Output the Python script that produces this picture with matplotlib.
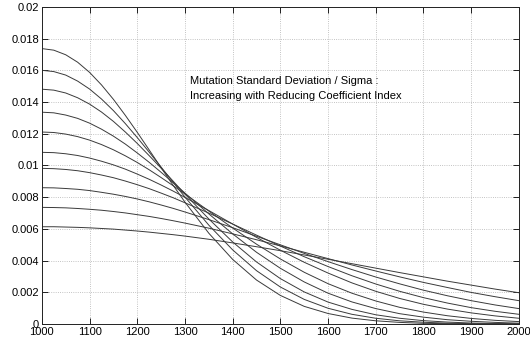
import matplotlib
matplotlib.use("Agg")
import matplotlib.pyplot as plt
from matplotlib.ticker import FuncFormatter

# sample positions (coefficient axis), denser near the peaks
x_vals = [1000, 1025, 1050, 1075, 1100, 1125, 1150, 1175, 1200, 1225, 1250, 1275, 1300,
          1350, 1400, 1450, 1500, 1550, 1600, 1650, 1700, 1750, 1800, 1850, 1900, 1950, 2000]

# one curve per coefficient index (tallest first)
curve_1 = [0.01737, 0.01727, 0.01698, 0.01651, 0.01587, 0.01508, 0.01417, 0.01316, 0.01209, 0.01098,
           0.00986, 0.00876, 0.00769, 0.00573, 0.00408, 0.00278, 0.00181, 0.00112, 0.00067, 0.00038,
           0.00021, 0.00011, 0.00005, 0.00003, 0.00001, 0.0, 0.0]
curve_2 = [0.0160, 0.01592, 0.01570, 0.01532, 0.01482, 0.01419, 0.01346, 0.01264, 0.01176, 0.01084,
           0.00990, 0.00895, 0.00801, 0.00624, 0.00468, 0.00337, 0.00234, 0.00156, 0.00100, 0.00062,
           0.00037, 0.00021, 0.00012, 0.00006, 0.00003, 0.00002, 0.00001]
curve_3 = [0.01481, 0.01475, 0.01457, 0.01427, 0.01387, 0.01337, 0.01278, 0.01211, 0.01139, 0.01062,
           0.00983, 0.00902, 0.00820, 0.00663, 0.00518, 0.00392, 0.00287, 0.00203, 0.00139, 0.00093,
           0.00059, 0.00037, 0.00022, 0.00013, 0.00007, 0.00004, 0.00002]
curve_4 = [0.01336, 0.01332, 0.01318, 0.01297, 0.01267, 0.01229, 0.01185, 0.01135, 0.01079, 0.01020,
           0.00957, 0.00892, 0.00826, 0.00695, 0.00569, 0.00453, 0.00352, 0.00266, 0.00195, 0.00140,
           0.00098, 0.00066, 0.00044, 0.00028, 0.00018, 0.00011, 0.00006]
curve_5 = [0.01211, 0.01208, 0.01198, 0.01182, 0.01160, 0.01132, 0.01099, 0.01061, 0.01019, 0.00973,
           0.00924, 0.00873, 0.00821, 0.00713, 0.00606, 0.00504, 0.00411, 0.00327, 0.00255, 0.00195,
           0.00146, 0.00106, 0.00076, 0.00053, 0.00036, 0.00024, 0.00016]
curve_6 = [0.01083, 0.01081, 0.01074, 0.01063, 0.01047, 0.01027, 0.01004, 0.00977, 0.00946, 0.00913,
           0.00877, 0.00839, 0.00799, 0.00716, 0.00631, 0.00547, 0.00466, 0.00390, 0.00322, 0.00260,
           0.00207, 0.00162, 0.00125, 0.00095, 0.00071, 0.00052, 0.00037]
curve_7 = [0.00982, 0.00980, 0.00975, 0.00967, 0.00955, 0.00940, 0.00923, 0.00902, 0.00879, 0.00854,
           0.00826, 0.00797, 0.00765, 0.00700, 0.00631, 0.00561, 0.00492, 0.00425, 0.00363, 0.00305,
           0.00253, 0.00207, 0.00167, 0.00133, 0.00104, 0.00081, 0.00062]
curve_8 = [0.0086, 0.00859, 0.00855, 0.00850, 0.00842, 0.00831, 0.00819, 0.00805, 0.00789, 0.00771,
           0.00751, 0.00730, 0.00707, 0.00659, 0.00608, 0.00554, 0.00500, 0.00446, 0.00394, 0.00344,
           0.00297, 0.00254, 0.00214, 0.00179, 0.00148, 0.00121, 0.00098]
curve_9 = [0.00736, 0.00735, 0.00733, 0.00729, 0.00724, 0.00718, 0.00710, 0.00701, 0.00690, 0.00679,
           0.00666, 0.00652, 0.00637, 0.00605, 0.00569, 0.00532, 0.00493, 0.00453, 0.00413, 0.00373,
           0.00335, 0.00298, 0.00263, 0.00231, 0.00200, 0.00173, 0.00148]
curve_10 = [0.00614, 0.00614, 0.00612, 0.00610, 0.00607, 0.00603, 0.00599, 0.00593, 0.00587, 0.00580,
            0.00572, 0.00564, 0.00555, 0.00535, 0.00512, 0.00488, 0.00463, 0.00436, 0.00409, 0.00381,
            0.00353, 0.00325, 0.00298, 0.00271, 0.00246, 0.00221, 0.00198]

curves = [curve_1, curve_2, curve_3, curve_4, curve_5,
          curve_6, curve_7, curve_8, curve_9, curve_10]

x_ticks = [1000, 1100, 1200, 1300, 1400, 1500, 1600, 1700, 1800, 1900, 2000]
y_ticks = [0, 0.002, 0.004, 0.006, 0.008, 0.01, 0.012, 0.014, 0.016, 0.018, 0.02]

note = "Mutation Standard Deviation / Sigma :\nIncreasing with Reducing Coefficient Index"

plt.rcParams["font.family"] = ["Liberation Sans", "DejaVu Sans"]

fig = plt.figure(figsize=(5.3, 3.43), dpi=100)
ax = fig.add_axes([0.079, 0.055, 0.9, 0.925])

for ys in curves:
    ax.plot(x_vals, ys, color="#3a3a3a", linewidth=0.7)

ax.set_xlim(1000, 2000)
ax.set_ylim(0, 0.02)
ax.set_xticks(x_ticks)
ax.set_yticks(y_ticks)
ax.yaxis.set_major_formatter(FuncFormatter(lambda v, pos: "%g" % round(v, 6)))
ax.tick_params(direction="in", top=True, right=True, length=4, width=0.6,
               labelsize=8, pad=2)
ax.grid(True, linestyle=":", color="#b0b0b0", linewidth=0.6)
for sp in ax.spines.values():
    sp.set_linewidth(0.7)
    sp.set_color("#222222")

ax.text(1310, 0.01486, note, fontsize=8, ha="left", va="center",
        linespacing=1.55)

fig.savefig("out.png", dpi=100, facecolor="white")
